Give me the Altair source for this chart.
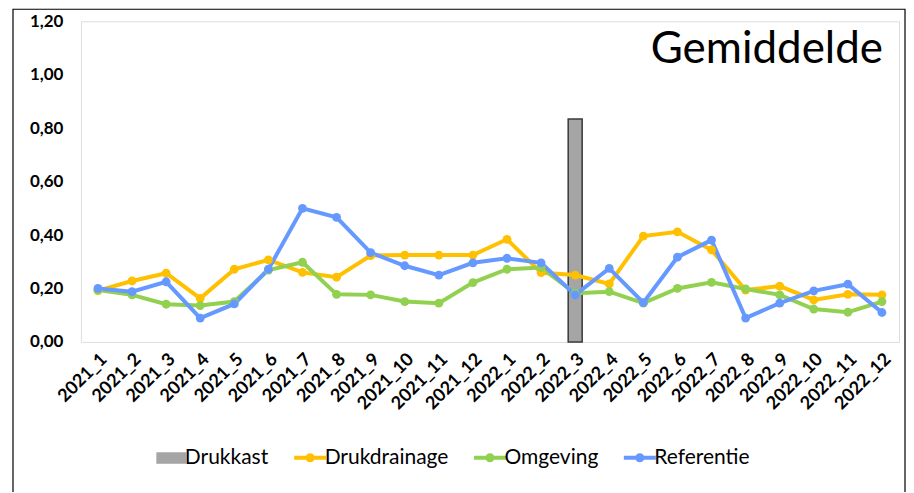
import altair as alt
import pandas as pd

months = ["2021_1", "2021_2", "2021_3", "2021_4", "2021_5", "2021_6", "2021_7", "2021_8",
          "2021_9", "2021_10", "2021_11", "2021_12", "2022_1", "2022_2", "2022_3", "2022_4",
          "2022_5", "2022_6", "2022_7", "2022_8", "2022_9", "2022_10", "2022_11", "2022_12"]

drukdrainage = [0.192, 0.228, 0.257, 0.163, 0.272, 0.307, 0.260, 0.242, 0.323, 0.325, 0.325, 0.325,
                0.384, 0.259, 0.250, 0.217, 0.396, 0.412, 0.344, 0.194, 0.209, 0.157, 0.178, 0.176]
omgeving = [0.194, 0.176, 0.141, 0.136, 0.151, 0.269, 0.298, 0.178, 0.176, 0.151, 0.145, 0.222,
            0.272, 0.278, 0.182, 0.188, 0.145, 0.200, 0.223, 0.198, 0.176, 0.123, 0.111, 0.151]
referentie = [0.200, 0.188, 0.225, 0.089, 0.142, 0.272, 0.500, 0.466, 0.334, 0.285, 0.250, 0.296,
              0.313, 0.296, 0.176, 0.275, 0.147, 0.317, 0.381, 0.089, 0.145, 0.191, 0.216, 0.110]
drukkast_month = ["2022_3"]
drukkast = [0.834]

series_names = ["Drukkast", "Drukdrainage", "Omgeving", "Referentie"]
series_colors = ["#A5A5A5", "#FFC000", "#92D050", "#6699FF"]
title_text = ["Gemiddelde"]
y_ticks = [0, 0.2, 0.4, 0.6, 0.8, 1.0, 1.2]

rows = []
for name, vals in [("Drukdrainage", drukdrainage), ("Omgeving", omgeving), ("Referentie", referentie)]:
    for m, v in zip(months, vals):
        rows.append({"month": m, "value": v, "series": name})
lines_df = pd.DataFrame(rows)
bar_df = pd.DataFrame({"month": drukkast_month, "value": drukkast, "series": ["Drukkast"] * len(drukkast)})

FONT = "Lato"

x_enc = alt.X("month:N", sort=months,
              scale=alt.Scale(domain=months, paddingInner=0, paddingOuter=0),
              axis=alt.Axis(title=None, labelAngle=-45, labelFontWeight="bold", labelFontSize=18,
                            labelFont=FONT, labelColor="#000000", ticks=False, domain=False,
                            labelPadding=8))
y_enc = alt.Y("value:Q", scale=alt.Scale(domain=[0, 1.2], nice=False),
              axis=alt.Axis(title=None, values=y_ticks, grid=False, ticks=False, domain=False,
                            labelExpr="replace(format(datum.value, '.2f'), '.', ',')",
                            labelFontWeight="bold", labelFontSize=17, labelFont=FONT,
                            labelColor="#000000", labelPadding=18))

square_path = "M-0.875,-0.36H1V0.36H-0.875Z"
line_path = "M-1,0H1M0.16,0A0.16,0.16 0 1 1 -0.16,0A0.16,0.16 0 1 1 0.16,0"

legend = alt.Legend(
    title=None, orient="none", legendX=79, legendY=426, direction="horizontal",
    labelFont=FONT, labelFontSize=21, labelColor="#000000", symbolSize=1024,
    columnPadding=17, labelOffset=4,
    symbolType=alt.ExprRef(expr="datum.value === 'Drukkast' ? '" + square_path + "' : '" + line_path + "'"),
    symbolFillColor=alt.ExprRef(expr="scale('color', datum.value)"),
    symbolStrokeColor=alt.ExprRef(expr="scale('color', datum.value)"),
    symbolStrokeWidth=alt.ExprRef(expr="datum.value === 'Drukkast' ? 0 : 4"),
    symbolOpacity=1,
)

color_enc = alt.Color("series:N", scale=alt.Scale(domain=series_names, range=series_colors),
                      legend=legend)

bars = alt.Chart(bar_df).mark_bar(size=14, stroke="#3A3A3A", strokeWidth=1.5, opacity=1).encode(
    x=x_enc, y=y_enc, color=color_enc)

lines = alt.Chart(lines_df).mark_line(strokeWidth=4).encode(
    x=x_enc, y=y_enc, color=color_enc)

points = alt.Chart(lines_df).mark_point(filled=True, size=78, opacity=1).encode(
    x=x_enc, y=y_enc, color=color_enc)

title_df = pd.DataFrame({"t": title_text})
title = alt.Chart(title_df).mark_text(align="right", baseline="alphabetic", fontSize=44,
                                      font=FONT, color="#000000").encode(
    text="t:N", x=alt.value(803), y=alt.value(42))

border_df = pd.DataFrame({"b": [1]})
border = alt.Chart(border_df).mark_rect(fill=None, stroke="#000000", strokeWidth=1.2).encode(
    x=alt.value(-68), x2=alt.value(825), y=alt.value(-12), y2=alt.value(480))

chart = alt.layer(border, bars, lines, points, title).properties(
    width=819, height=321,
    autosize=alt.AutoSizeParams(type="none"),
    padding={"left": 73, "top": 13, "right": 7, "bottom": 150},
).configure_view(stroke="#000000", strokeWidth=1.2).configure(background="#FFFFFF")

chart.save("out.html", embed_options={"renderer": "svg", "actions": False})
